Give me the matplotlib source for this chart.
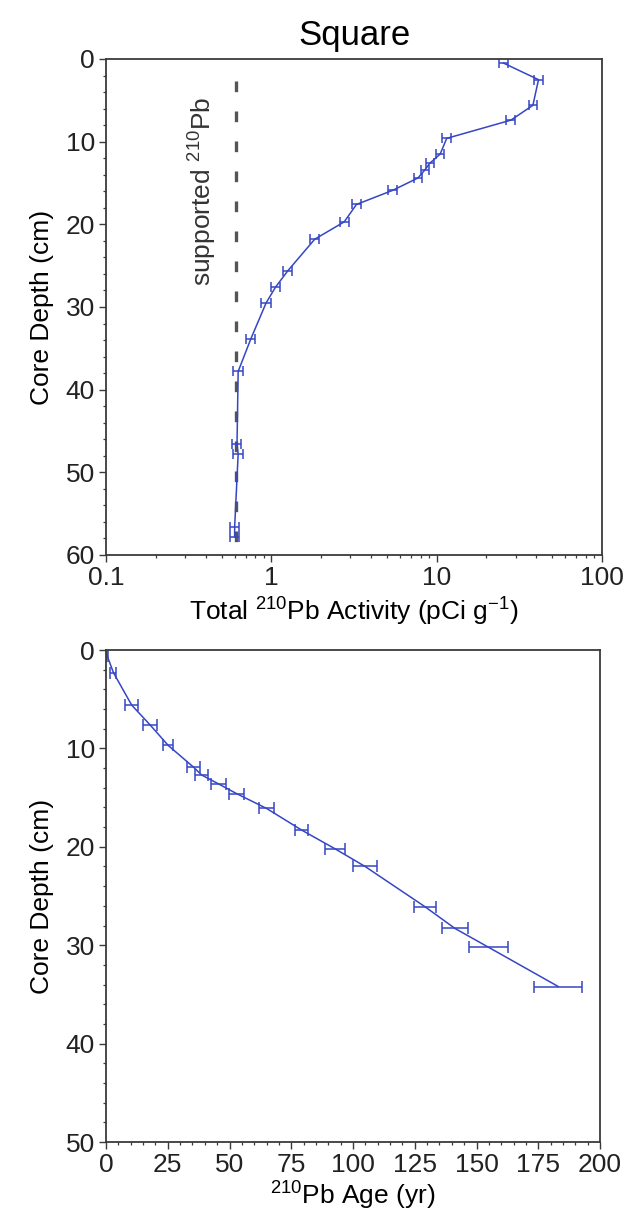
import matplotlib
matplotlib.use("Agg")
import matplotlib.pyplot as plt
from matplotlib.ticker import MultipleLocator, LogLocator, FixedLocator, NullFormatter

plt.rcParams['font.family'] = ['Liberation Sans', 'DejaVu Sans']
plt.rcParams['mathtext.fontset'] = 'custom'
plt.rcParams['mathtext.rm'] = 'Liberation Sans'
plt.rcParams['mathtext.it'] = 'Liberation Sans:italic'
plt.rcParams['mathtext.bf'] = 'Liberation Sans:bold'

# Top panel: total 210Pb activity vs depth
depth_top = [0.5, 2.5, 5.6, 7.4, 9.6, 11.5, 12.6, 13.4, 14.4, 15.9, 17.6, 19.7,
             21.8, 25.6, 27.6, 29.5, 33.9, 37.8, 46.6, 47.8, 56.6, 57.8]
activity = [25.4, 41.3, 38.2, 28.1, 11.5, 10.5, 9.1, 8.5, 7.7, 5.4, 3.27, 2.76,
            1.83, 1.26, 1.06, 0.93, 0.75, 0.63, 0.62, 0.63, 0.60, 0.60]
activity_err = [1.5, 2.4, 2.2, 1.7, 0.7, 0.6, 0.5, 0.5, 0.45, 0.33, 0.2, 0.17,
                0.11, 0.08, 0.07, 0.06, 0.05, 0.04, 0.04, 0.04, 0.04, 0.04]
supported = 0.61
supported_depth = [2.7, 60]

# Bottom panel: 210Pb age vs depth
depth_bot = [0.2, 0.6, 2.3, 5.6, 7.6, 9.7, 11.9, 12.7, 13.6, 14.6, 16.1, 18.3,
             20.2, 22.0, 26.1, 28.3, 30.2, 34.2]
age = [0.0, 0.5, 3.0, 10.4, 17.8, 25.2, 35.4, 38.7, 45.5, 52.9, 65.0, 79.2,
       92.7, 104.9, 129.2, 141.3, 154.8, 183.1]
age_err = [0.3, 0.5, 1.2, 2.7, 3.0, 2.0, 2.5, 2.5, 3.0, 3.0, 3.0, 2.7,
           4.0, 4.7, 4.4, 5.4, 8.0, 9.8]

blue = '#3546c4'
dark = '#3a3a3a'
fs = 19

fig = plt.figure(figsize=(6.25, 12.28), dpi=100)
ax1 = fig.add_axes([106/625, 1-555/1228, 496/625, 496/1228])
ax2 = fig.add_axes([106/625, 1-1142/1228, 494/625, 492/1228])

# top panel
ax1.plot([supported, supported], supported_depth, color='#555555', lw=2.4,
         dashes=(3.2, 5.8), zorder=1)
ax1.errorbar(activity, depth_top, xerr=activity_err, color=blue, lw=1.1,
             elinewidth=1.1, capsize=3.5, capthick=1.1, zorder=2)
ax1.set_xscale('log')
ax1.set_xlim(0.1, 100)
ax1.set_ylim(60, 0)
ax1.xaxis.set_major_locator(FixedLocator([0.1, 1, 10, 100]))
ax1.set_xticklabels(['0.1', '1', '10', '100'])
ax1.xaxis.set_minor_locator(LogLocator(base=10, subs=range(2, 10)))
ax1.xaxis.set_minor_formatter(NullFormatter())
ax1.yaxis.set_major_locator(MultipleLocator(10))
ax1.yaxis.set_minor_locator(MultipleLocator(2))
ax1.set_xlabel(r'Total $^{210}$Pb Activity (pCi g$^{-1}$)', fontsize=fs, labelpad=4)
ax1.set_ylabel('Core Depth (cm)', fontsize=fs, labelpad=8)
ax1.set_title('Square', fontsize=25, pad=10)
ax1.text(0.385, 16, r'supported $^{210}$Pb', rotation=90, fontsize=fs,
         ha='center', va='center', color='#333333')

# bottom panel
ax2.errorbar(age, depth_bot, xerr=age_err, color=blue, lw=1.1,
             elinewidth=1.1, capsize=4.5, capthick=1.1)
ax2.set_xlim(0, 200)
ax2.set_ylim(50, 0)
ax2.xaxis.set_major_locator(MultipleLocator(25))
ax2.xaxis.set_minor_locator(MultipleLocator(5))
ax2.yaxis.set_major_locator(MultipleLocator(10))
ax2.yaxis.set_minor_locator(MultipleLocator(2))
ax2.set_xlabel(r'$^{210}$Pb Age (yr)', fontsize=fs, labelpad=2)
ax2.set_ylabel('Core Depth (cm)', fontsize=fs, labelpad=8)

for ax in (ax1, ax2):
    for s in ax.spines.values():
        s.set_color(dark)
        s.set_linewidth(1.3)
    ax.tick_params(which='major', direction='out', length=5, width=1,
                   color=dark, labelsize=fs, labelcolor='#222222', pad=3)
    ax.tick_params(which='minor', direction='out', length=2.5, width=0.9,
                   color=dark)

fig.savefig('out.png', dpi=100)
